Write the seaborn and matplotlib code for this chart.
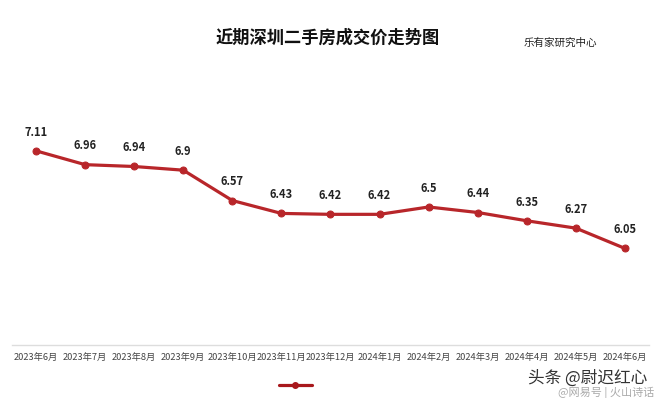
import matplotlib
matplotlib.use("Agg")
import matplotlib.pyplot as plt
import seaborn as sns
import pandas as pd
from matplotlib.lines import Line2D

sns.set_theme(style="white")
plt.rcParams['font.family'] = ['Noto Sans CJK SC', 'DejaVu Sans']

# 数据
months = ["2023年6月", "2023年7月", "2023年8月", "2023年9月", "2023年10月",
          "2023年11月", "2023年12月", "2024年1月", "2024年2月", "2024年3月",
          "2024年4月", "2024年5月", "2024年6月"]
prices = [7.11, 6.96, 6.94, 6.9, 6.57, 6.43, 6.42, 6.42, 6.5, 6.44, 6.35, 6.27, 6.05]
price_text = ["7.11", "6.96", "6.94", "6.9", "6.57", "6.43", "6.42", "6.42",
              "6.5", "6.44", "6.35", "6.27", "6.05"]

df = pd.DataFrame({"月份": months, "成交价": prices})
red = "#B8262A"

fig = plt.figure(figsize=(6.59, 3.98), dpi=100)
ax = fig.add_axes([0.0175, 0.1332, 0.968, 0.6935])

sns.lineplot(data=df, x="月份", y="成交价", ax=ax, color=red, linewidth=2.3,
             marker="o", markersize=5, markeredgecolor=red, sort=False)

for i, (v, t) in enumerate(zip(prices, price_text)):
    ax.annotate(t, (i, v), xytext=(0, 13.5), textcoords="offset points",
                ha="center", va="center", fontsize=8, fontweight="bold",
                color="#222222")

ax.set_xlim(-0.5, len(months) - 0.5)
ax.set_ylim(5.0, 8.0)
ax.set_yticks([])
ax.set_xlabel("")
ax.set_ylabel("")
ax.tick_params(axis="x", length=0, labelsize=6.7, labelcolor="#444444", pad=6)
for s in ["top", "left", "right"]:
    ax.spines[s].set_visible(False)
ax.spines["bottom"].set_color("#DDDDDD")
ax.spines["bottom"].set_linewidth(1)

fig.text(0.498, 0.905, "近期深圳二手房成交价走势图", ha="center", va="center",
         fontsize=12.4, fontweight="bold", color="#111111")
fig.text(0.85, 0.892, "乐有家研究中心", ha="center", va="center",
         fontsize=7.6, color="#222222")

handle = Line2D([], [], color="#A8181C", linewidth=2.3, marker="o", markersize=4)
fig.legend(handles=[handle], labels=[" "], loc="center",
           bbox_to_anchor=(0.46, 0.03), frameon=False, handlelength=2.2)

# 水印
fig.text(0.892, 0.05, "头条 @尉迟红心", ha="center", va="center",
         fontsize=12, color="#333333")
fig.text(0.92, 0.012, "@网易号 | 火山诗话", ha="center", va="center",
         fontsize=8, color="#AAAAAA")

fig.savefig("out.png", dpi=100, facecolor="white")
